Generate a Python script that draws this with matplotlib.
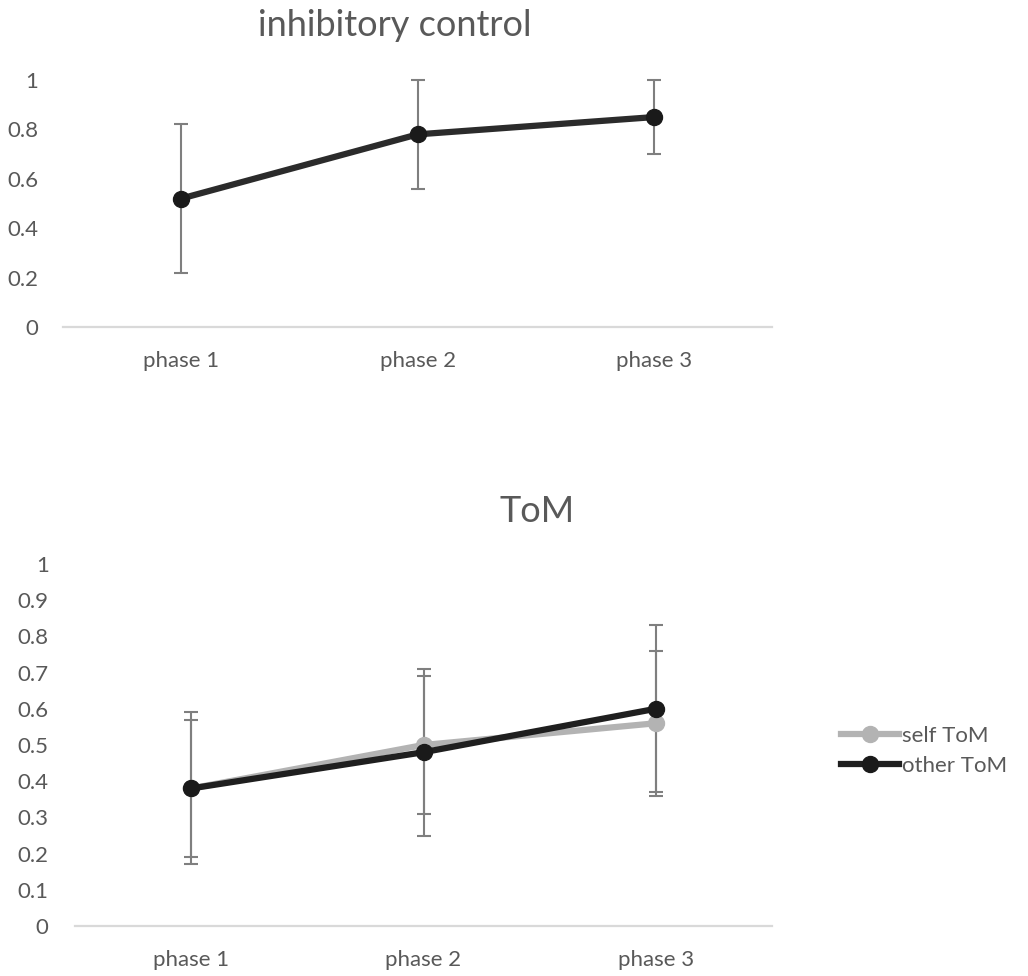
import matplotlib.pyplot as plt

plt.rcParams['font.family'] = ['Lato', 'DejaVu Sans']

phases = ["phase 1", "phase 2", "phase 3"]

# inhibitory control
ic_mean = [0.52, 0.78, 0.85]
ic_lo = [0.22, 0.56, 0.70]
ic_hi = [0.82, 1.00, 1.00]

# ToM
self_tom = [0.38, 0.50, 0.56]
self_lo = [0.17, 0.31, 0.36]
self_hi = [0.59, 0.69, 0.76]
other_tom = [0.38, 0.48, 0.60]
other_lo = [0.19, 0.25, 0.37]
other_hi = [0.57, 0.71, 0.83]

ic_ticks = [0, 0.2, 0.4, 0.6, 0.8, 1]
ic_ticklabels = ["0", "0.2", "0.4", "0.6", "0.8", "1"]
tom_ticks = [0, 0.1, 0.2, 0.3, 0.4, 0.5, 0.6, 0.7, 0.8, 0.9, 1]
tom_ticklabels = ["0", "0.1", "0.2", "0.3", "0.4", "0.5", "0.6", "0.7", "0.8", "0.9", "1"]

TXT = "#595959"
ERR = "#7f7f7f"
AXIS = "#d9d9d9"


def style_axes(ax, ticks, labels, ypad):
    ax.set_xlim(-0.5, 2.5)
    ax.set_ylim(0, 1)
    for s in ["top", "right", "left"]:
        ax.spines[s].set_visible(False)
    ax.spines["bottom"].set_color(AXIS)
    ax.spines["bottom"].set_linewidth(1.6)
    ax.set_xticks(range(len(phases)))
    ax.set_xticklabels(phases)
    ax.set_yticks(ticks)
    ax.set_yticklabels(labels)
    ax.tick_params(axis="both", length=0, labelsize=16, labelcolor=TXT)
    ax.tick_params(axis="x", pad=17)
    ax.tick_params(axis="y", pad=ypad)


def errs(mean, lo, hi):
    return [[m - l for m, l in zip(mean, lo)], [h - m for m, h in zip(mean, hi)]]


fig = plt.figure(figsize=(10.28, 9.76), dpi=100)
x = list(range(len(phases)))

ax1 = fig.add_axes([0.0613, 0.665, 0.690, 0.253])
style_axes(ax1, ic_ticks, ic_ticklabels, 18)
ax1.errorbar(x, ic_mean, yerr=errs(ic_mean, ic_lo, ic_hi), fmt="none",
             ecolor=ERR, elinewidth=1.5, capsize=4.7, capthick=1.5, clip_on=False, zorder=2)
ax1.plot(x, ic_mean, color="#2b2b2b", lw=4.5, marker="o", ms=11.5,
         mfc="#1a1a1a", mec="#1a1a1a", clip_on=False, zorder=3)
fig.text(395 / 1028, 1 - 25 / 976, "inhibitory control", ha="center", va="center",
         fontsize=26, color=TXT)

ax2 = fig.add_axes([0.073, 0.0512, 0.678, 0.371])
style_axes(ax2, tom_ticks, tom_ticklabels, 19)
ax2.errorbar(x, self_tom, yerr=errs(self_tom, self_lo, self_hi), fmt="none",
             ecolor=ERR, elinewidth=1.5, capsize=4.7, capthick=1.5, clip_on=False, zorder=2)
ax2.errorbar(x, other_tom, yerr=errs(other_tom, other_lo, other_hi), fmt="none",
             ecolor=ERR, elinewidth=1.5, capsize=4.7, capthick=1.5, clip_on=False, zorder=2)
self_line, = ax2.plot(x, self_tom, color="#b3b3b3", lw=4.5, marker="o", ms=11.5,
                      mfc="#b3b3b3", mec="#b3b3b3", label="self ToM", zorder=3)
other_line, = ax2.plot(x, other_tom, color="#1f1f1f", lw=4.5, marker="o", ms=11.5,
                       mfc="#1a1a1a", mec="#1a1a1a", label="other ToM", zorder=4)
fig.text(537 / 1028, 1 - 512 / 976, "ToM", ha="center", va="center",
         fontsize=26, color=TXT)

fig.legend(handles=[self_line, other_line], labels=["self ToM", "other ToM"],
           loc="center left", bbox_to_anchor=(0.818, 1 - 751 / 976),
           frameon=False, fontsize=16, handlelength=2.6, handletextpad=0.15,
           labelspacing=0.45, labelcolor=TXT, borderaxespad=0, borderpad=0)

fig.savefig("out.png", dpi=100)
